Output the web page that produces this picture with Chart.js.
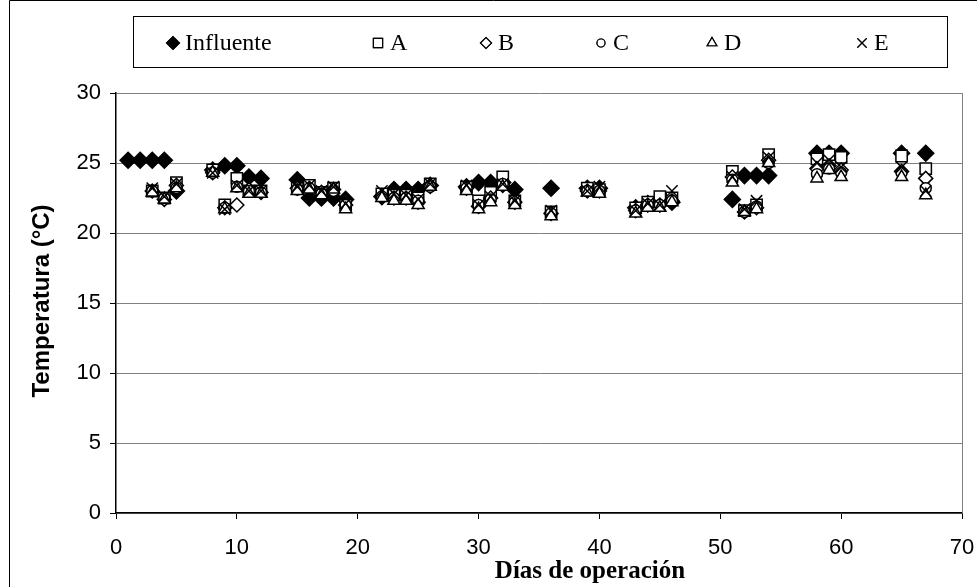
<!DOCTYPE html>
<html>
<head>
<meta charset="utf-8">
<script src="https://cdn.jsdelivr.net/npm/chart.js"></script>
<style>
  body { margin: 0; background: #fff; }
  #wrap { width: 977px; height: 587px; }
</style>
</head>
<body>
<div id="wrap"><canvas id="tempChart" width="977" height="587"></canvas></div>
<script>
// días de operación
const DAYS_INF = [1, 2, 3, 4, 5, 8, 9, 10, 11, 12, 15, 16, 17, 18, 19, 22, 23, 24, 25, 26, 29, 30, 31, 32, 33, 36, 39, 40, 43, 44, 45, 46, 51, 52, 53, 54, 58, 59, 60, 65, 67];
const DAYS = [3, 4, 5, 8, 9, 10, 11, 12, 15, 16, 17, 18, 19, 22, 23, 24, 25, 26, 29, 30, 31, 32, 33, 36, 39, 40, 43, 44, 45, 46, 51, 52, 53, 54, 58, 59, 60, 65, 67];

// temperaturas (°C)
const INFLUENTE = [25.2, 25.2, 25.2, 25.2, 23.0, 24.5, 24.8, 24.8, 24.0, 23.9, 23.8, 22.5, 22.5, 22.5, 22.4, 22.6, 23.1, 23.1, 23.1, 23.4, 23.3, 23.6, 23.6, 23.6, 23.1, 23.2, 23.2, 23.2, 21.8, 22.1, 22.1, 22.2, 22.4, 24.1, 24.1, 24.1, 25.7, 25.7, 25.7, 25.7, 25.7];
const SERIE_A = [23.0, 22.5, 23.6, 24.5, 22.0, 23.9, 23.0, 23.0, 23.2, 23.4, 22.9, 23.2, 22.0, 22.8, 22.7, 22.7, 22.5, 23.5, 23.3, 22.3, 22.9, 24.0, 22.3, 21.5, 23.2, 23.1, 21.8, 22.2, 22.6, 22.5, 24.4, 21.6, 22.0, 25.6, 25.3, 25.6, 25.4, 25.5, 24.6];
const SERIE_B = [23.0, 22.4, 23.4, 24.3, 21.8, 22.0, 23.1, 22.9, 23.2, 23.2, 22.9, 23.1, 22.0, 22.6, 22.5, 22.5, 22.2, 23.4, 23.2, 21.9, 22.5, 23.4, 22.2, 21.4, 23.0, 23.0, 21.6, 22.0, 22.0, 22.3, 24.0, 21.5, 21.8, 25.2, 24.6, 24.8, 24.5, 24.4, 23.9];
const SERIE_C = [23.0, 22.5, 23.2, 24.3, 21.8, 23.3, 23.0, 22.9, 23.1, 23.2, 22.8, 23.0, 22.0, 22.6, 22.5, 22.5, 22.3, 23.3, 23.2, 22.0, 22.4, 23.5, 22.2, 21.4, 23.0, 23.0, 21.6, 22.0, 22.0, 22.3, 23.8, 21.5, 21.9, 25.0, 24.2, 24.6, 24.3, 24.3, 23.2];
const SERIE_D = [22.9, 22.4, 23.2, 24.3, 21.7, 23.2, 22.8, 22.8, 23.0, 23.1, 22.7, 23.1, 21.7, 22.5, 22.3, 22.3, 22.0, 23.3, 23.0, 21.7, 22.2, 23.3, 22.0, 21.2, 22.9, 22.8, 21.4, 21.8, 21.8, 22.2, 23.6, 21.5, 21.7, 25.0, 23.9, 24.5, 24.0, 24.0, 22.7];
const SERIE_E = [23.2, 22.6, 23.5, 24.3, 21.7, 23.4, 23.0, 23.0, 23.3, 23.4, 23.0, 23.3, 22.1, 23.0, 22.8, 22.7, 22.4, 23.5, 23.4, 22.0, 22.6, 23.5, 22.3, 21.6, 23.0, 23.3, 21.6, 22.1, 22.0, 23.0, 24.0, 21.7, 22.3, 25.4, 25.0, 25.2, 24.7, 24.7, 23.0];

const X_TICKS = [0, 10, 20, 30, 40, 50, 60, 70];
const Y_TICKS = [0, 5, 10, 15, 20, 25, 30];

const toPoints = (days, vals) => days.map((d, i) => ({ x: d, y: vals[i] }));

// estilos de los marcadores (Excel)
const series = [
  { label: "Influente", days: DAYS_INF, vals: INFLUENTE, style: "rectRot", r: 8, fill: "#000" },
  { label: "A", days: DAYS, vals: SERIE_A, style: "rect", r: 8, fill: "#fff" },
  { label: "B", days: DAYS, vals: SERIE_B, style: "rectRot", r: 7, fill: "#fff" },
  { label: "C", days: DAYS, vals: SERIE_C, style: "circle", r: 5.5, fill: "#fff" },
  { label: "D", days: DAYS, vals: SERIE_D, style: "triangle", r: 7, fill: "#fff" },
  { label: "E", days: DAYS, vals: SERIE_E, style: "crossRot", r: 8, fill: "#fff" },
];

// marco externo, borde derecho del área y leyenda con recuadro
const framePlugin = {
  id: "frame",
  afterDraw(chart) {
    const { ctx, chartArea } = chart;
    ctx.save();
    ctx.strokeStyle = "#000";
    ctx.lineWidth = 1;
    ctx.beginPath();
    ctx.moveTo(9.5, 587);
    ctx.lineTo(9.5, 0.5);
    ctx.lineTo(977, 0.5);
    ctx.stroke();

    ctx.strokeStyle = "#808080";
    ctx.beginPath();
    ctx.moveTo(chartArea.right + 0.5, chartArea.top);
    ctx.lineTo(chartArea.right + 0.5, chartArea.bottom);
    ctx.stroke();

    // leyenda
    ctx.strokeStyle = "#000";
    ctx.strokeRect(133.5, 16.5, 814, 51);
    const slots = [173, 378, 486, 601, 712, 862];
    ctx.font = "24px 'Liberation Serif'";
    ctx.textBaseline = "middle";
    ctx.fillStyle = "#000";
    chart.data.datasets.forEach((ds, i) => {
      const x = slots[i], y = 43;
      Chart.helpers.drawPoint(ctx, {
        pointStyle: ds.pointStyle,
        radius: ds.pointRadius - 1.5,
        rotation: 0,
        borderWidth: 1.2,
      }, x, y);
      ctx.fillStyle = ds.pointBackgroundColor;
      ctx.strokeStyle = "#000";
      ctx.lineWidth = 1.2;
      if (ds.pointStyle !== "crossRot") ctx.fill();
      ctx.stroke();
      ctx.fillStyle = "#000";
      ctx.fillText(ds.label, x + 12, y + 1);
    });

    // títulos de ejes
    ctx.font = "bold 25px 'Liberation Serif'";
    ctx.textAlign = "center";
    ctx.textBaseline = "middle";
    ctx.fillText("Días de operación", 590, 572);
    ctx.save();
    ctx.translate(42, 301);
    ctx.rotate(-Math.PI / 2);
    ctx.font = "bold 24px 'Liberation Sans'";
    ctx.fillText("Temperatura (°C)", 0, 0);
    ctx.restore();
    ctx.restore();
  },
};

new Chart(document.getElementById("tempChart"), {
  type: "scatter",
  data: {
    datasets: series.map((s, i) => ({
      label: s.label,
      data: toPoints(s.days, s.vals),
      pointStyle: s.style,
      pointRadius: s.r,
      pointHoverRadius: s.r,
      pointBackgroundColor: s.fill,
      pointBorderColor: "#000",
      pointBorderWidth: 1.5,
      order: series.length - i,
    })),
  },
  options: {
    responsive: false,
    animation: false,
    events: [],
    layout: { padding: { top: 93, right: 0, left: 0, bottom: 0 } },
    plugins: { legend: { display: false }, tooltip: { enabled: false } },
    scales: {
      x: {
        type: "linear",
        min: 0,
        max: 70,
        afterBuildTicks: (scale) => { scale.ticks = X_TICKS.map((v) => ({ value: v })); },
        afterFit: (scale) => {
          scale.height = 74;
          scale.paddingLeft = 0;
          scale.paddingRight = 15;
        },
        grid: { drawOnChartArea: false, tickLength: 6, tickColor: "#000" },
        border: { color: "#000", width: 1.5 },
        ticks: { color: "#000", padding: 16, font: { family: "'Liberation Sans'", size: 22 } },
      },
      y: {
        min: 0,
        max: 30,
        afterBuildTicks: (scale) => { scale.ticks = Y_TICKS.map((v) => ({ value: v })); },
        afterFit: (scale) => { scale.width = 116; },
        grid: { color: "#808080", tickLength: 6, tickColor: "#000" },
        border: { color: "#000", width: 1.5 },
        ticks: { color: "#000", padding: 9, font: { family: "'Liberation Sans'", size: 22 } },
      },
    },
  },
  plugins: [framePlugin],
});
</script>
</body>
</html>
